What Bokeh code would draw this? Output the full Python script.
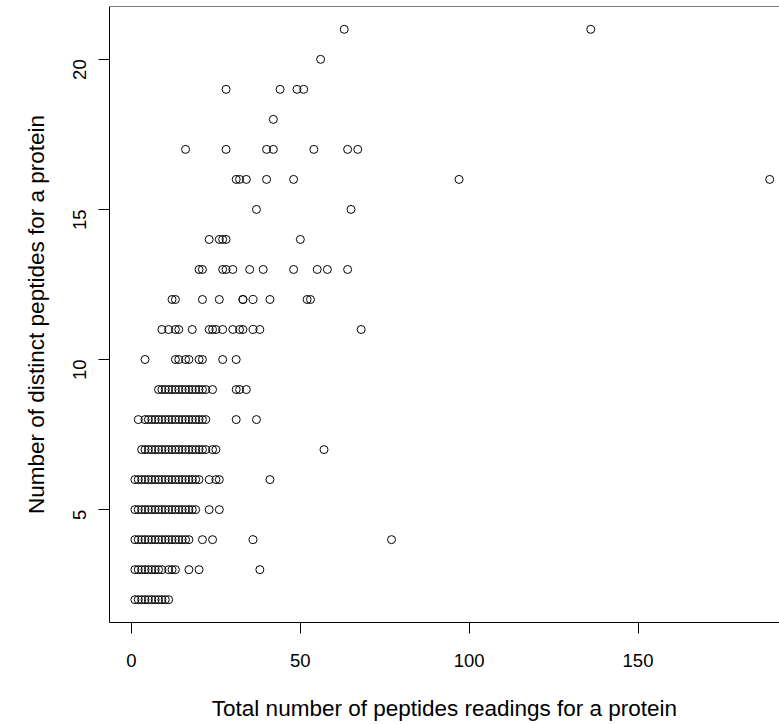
from math import pi

from bokeh.embed import file_html
from bokeh.models import FixedTicker, Span
from bokeh.plotting import figure
from bokeh.resources import INLINE

# Proteins grouped by number of distinct peptides (y); each list holds the
# total peptide readings (x) of the proteins in that group.
rows = {
    21: [63, 136],
    20: [56],
    19: [28, 44, 49, 51],
    18: [42],
    17: [16, 28, 40, 42, 54, 64, 67],
    16: [31, 32, 34, 40, 48, 97, 189],
    15: [37, 65],
    14: [23, 26, 27, 28, 50],
    13: [20, 21, 27, 28, 30, 35, 39, 48, 55, 58, 64],
    12: [12, 13, 21, 26, 33, 33, 36, 41, 52, 53],
    11: [9, 11, 13, 14, 18, 23, 24, 25, 27, 30, 32, 33, 36, 38, 68],
    10: [4, 13, 14, 16, 17, 20, 21, 27, 31],
    9: [8, 9, 10, 11, 12, 13, 14, 15, 16, 17, 18, 19, 20, 21, 22, 24, 31, 32, 34],
    8: [2, 4, 5, 6, 7, 8, 9, 10, 11, 12, 13, 14, 15, 16, 17, 18, 19, 20, 21, 22, 31, 37],
    7: [3, 4, 5, 6, 7, 8, 9, 10, 11, 12, 13, 14, 15, 16, 17, 18, 19, 20, 21, 22, 24, 25, 57],
    6: [1, 2, 3, 4, 5, 6, 7, 8, 9, 10, 11, 12, 13, 14, 15, 16, 17, 18, 19, 20, 23, 25, 26, 41],
    5: [1, 2, 3, 4, 5, 6, 7, 8, 9, 10, 11, 12, 13, 14, 15, 16, 17, 18, 19, 23, 26],
    4: [1, 2, 3, 4, 5, 6, 7, 8, 9, 10, 11, 12, 13, 14, 15, 16, 17, 21, 24, 36, 77],
    3: [1, 2, 3, 4, 5, 6, 7, 8, 9, 11, 12, 13, 17, 20, 38],
    2: [1, 2, 3, 4, 5, 6, 7, 8, 9, 10, 11],
}

total_readings = [x for y, xs in rows.items() for x in xs]
distinct_peptides = [y for y, xs in rows.items() for _ in xs]

x_ticks = [0, 50, 100, 150]
y_ticks = [5, 10, 15, 20]
x_title = "Total number of peptides readings for a protein"
y_title = "Number of distinct peptides for a protein"

FONT = "Liberation Sans"

p = figure(
    width=779,
    height=724,
    x_range=(-6.52, 191.9),
    y_range=(1.24, 21.76),
    output_backend="svg",
    toolbar_location=None,
    min_border_left=109,
    min_border_right=0,
    min_border_top=6,
    min_border_bottom=102,
)
p.grid.visible = False
p.outline_line_color = None
p.background_fill_color = "white"
p.border_fill_color = "white"

p.scatter(total_readings, distinct_peptides, marker="circle", size=8,
          fill_color=None, line_color="black", line_width=1)

# top edge of the plotting box (right edge runs off the page)
p.add_layout(Span(location=21.76, dimension="width", line_color="black", line_width=1))

for ax in (p.xaxis[0], p.yaxis[0]):
    ax.axis_line_color = "black"
    ax.major_tick_line_color = "black"
    ax.major_tick_in = 0
    ax.major_tick_out = 11
    ax.minor_tick_line_color = None
    ax.major_label_text_font = FONT
    ax.major_label_text_font_size = "18.5px"
    ax.major_label_text_color = "black"
    ax.axis_label_text_font = FONT
    ax.axis_label_text_font_size = "22.5px"
    ax.axis_label_text_font_style = "normal"
    ax.axis_label_text_color = "black"

p.xaxis.ticker = FixedTicker(ticks=x_ticks)
p.yaxis.ticker = FixedTicker(ticks=y_ticks)
p.xaxis.axis_label = x_title
p.yaxis.axis_label = y_title
p.xaxis.major_label_standoff = 20
p.xaxis.axis_label_standoff = 26
p.yaxis.major_label_orientation = pi / 2
p.yaxis.major_label_standoff = 19
p.yaxis.axis_label_standoff = 15

open("out.html", "w").write(file_html(p, INLINE))
